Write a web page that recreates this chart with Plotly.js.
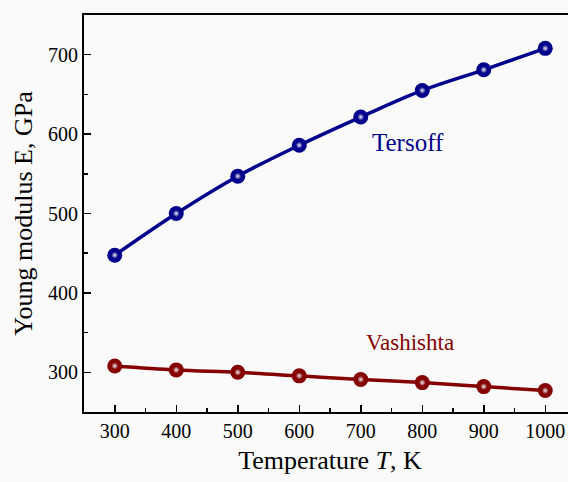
<!DOCTYPE html>
<html>
<head>
<meta charset="utf-8">
<script src="https://cdn.plot.ly/plotly-3.0.1.min.js"></script>
<style>html,body{margin:0;padding:0;overflow:hidden;background:#fafafa;}</style>
</head>
<body>
<div id="chart"></div>
<script>
const temperatures = [300, 400, 500, 600, 700, 800, 900, 1000];
const tersoff = [447.5, 500, 547, 586, 621.5, 655, 681, 708];
const vashishta = [308, 303, 300, 295.5, 291, 287, 282, 277];
const tersoffName = 'Tersoff';
const vashishtaName = 'Vashishta';

const blue = '#00008c';
const red = '#850000';

function series(y, color) {
  return [
    {x: temperatures, y: y, mode: 'lines+markers', type: 'scatter',
     line: {color: color, width: 3.5, shape: 'spline'},
     marker: {size: 15, color: color, line: {width: 0}},
     hoverinfo: 'x+y', showlegend: false},
    {x: temperatures, y: y, mode: 'markers', type: 'scatter',
     marker: {size: 7, color: color, gradient: {type: 'radial', color: '#f0f0f4'}, line: {width: 0}},
     hoverinfo: 'skip', showlegend: false}
  ];
}

const data = [...series(tersoff, blue), ...series(vashishta, red)];

const font = 'Liberation Serif, Times New Roman, serif';
const layout = {
  width: 600, height: 482,
  margin: {l: 84, r: 24, t: 15, b: 70},
  paper_bgcolor: '#fafafa', plot_bgcolor: '#fafafa',
  font: {family: font, color: '#000', size: 20},
  showlegend: false,
  xaxis: {
    range: [250, 1050], tickvals: temperatures, ticktext: temperatures.map(String),
    ticks: 'inside', ticklen: 7, tickwidth: 1.5, tickcolor: '#000',
    minor: {dtick: 50, tick0: 250, ticks: 'inside', ticklen: 4, tickwidth: 1.5, tickcolor: '#000'},
    showline: true, linecolor: '#000', linewidth: 2, mirror: true,
    showgrid: false, zeroline: false,
    tickfont: {size: 20, family: font},
    title: {text: 'Temperature <i>T</i>, K', font: {size: 26, family: font}, standoff: 10}
  },
  yaxis: {
    range: [250, 750], tickvals: [300, 400, 500, 600, 700],
    ticks: 'inside', ticklen: 7, tickwidth: 1.5, tickcolor: '#000',
    minor: {dtick: 50, tick0: 250, ticks: 'inside', ticklen: 4, tickwidth: 1.5, tickcolor: '#000'},
    showline: true, linecolor: '#000', linewidth: 2, mirror: true,
    showgrid: false, zeroline: false,
    tickfont: {size: 20, family: font},
    title: {text: 'Young modulus E, GPa', font: {size: 26, family: font}, standoff: 8}
  },
  annotations: [
    {x: 777, y: 590, xref: 'x', yref: 'y', text: tersoffName, showarrow: false,
     font: {size: 25, family: font, color: blue}},
    {x: 780, y: 337, xref: 'x', yref: 'y', text: vashishtaName, showarrow: false,
     font: {size: 23, family: font, color: red}}
  ]
};

Plotly.newPlot('chart', data, layout, {displayModeBar: false, staticPlot: true});
</script>
</body>
</html>
